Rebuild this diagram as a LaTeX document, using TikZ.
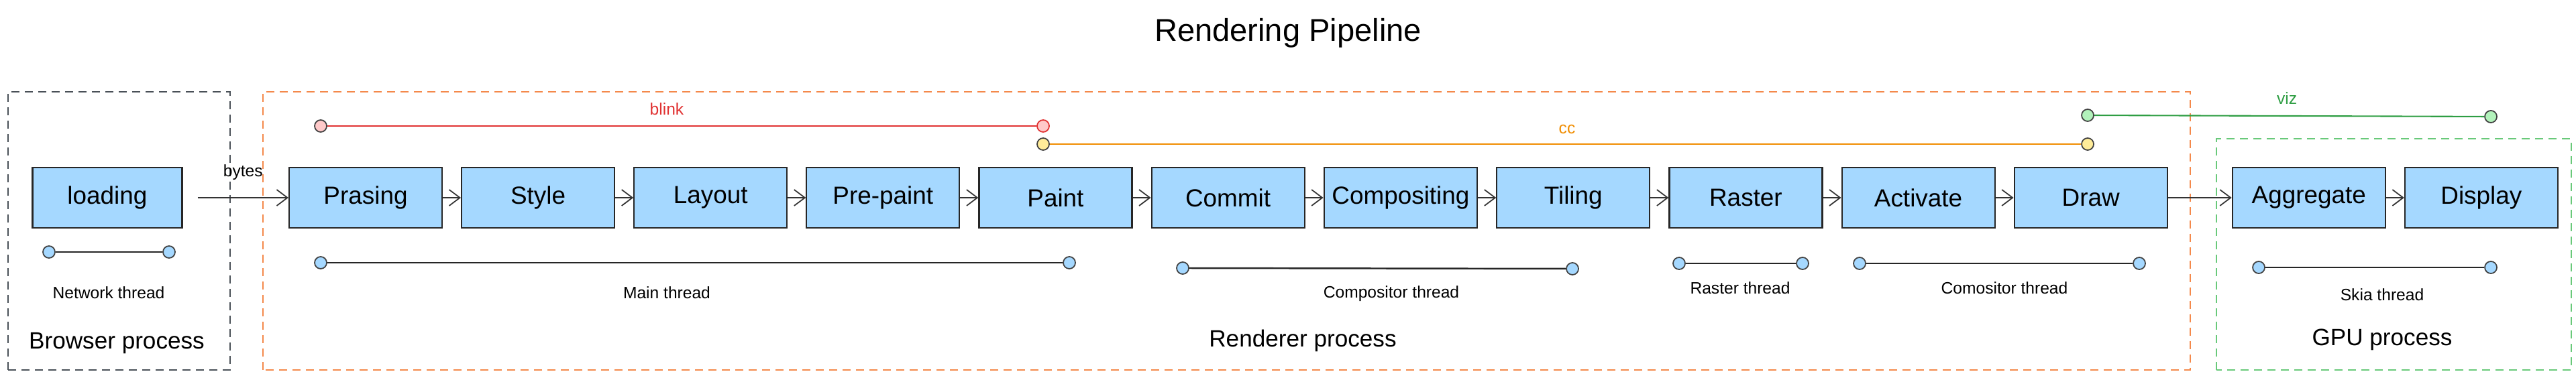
\documentclass[tikz,border=0pt]{standalone}
\usepackage{fontspec}
\setmainfont{Liberation Sans}
\usepackage{tikz}
\usetikzlibrary{arrows.meta,positioning}
\definecolor{PipeBlue}{HTML}{A5D8FF}
\definecolor{PipeRed}{HTML}{E03131}
\definecolor{PipePink}{HTML}{FFC9C9}
\definecolor{PipeOrange}{HTML}{F08C00}
\definecolor{PipeYellow}{HTML}{FFEC99}
\definecolor{PipeGreen}{HTML}{2F9E44}
\definecolor{PipeMint}{HTML}{B2F2BB}
\definecolor{PipeSalmon}{HTML}{F4894B}
\definecolor{PipeLeaf}{HTML}{69C97A}
\definecolor{PipeGray}{HTML}{495057}
\tikzset{
  stage/.style={draw=black!85, line width=0.6pt, fill=PipeBlue, align=center,
    minimum width=22.8mm, minimum height=9mm, font=\fontsize{10.5}{12}\selectfont},
  dot/.style={circle, draw=black!75, line width=0.5pt, fill=#1, inner sep=0pt,
    minimum size=1.8mm},
  flow/.style={-{Straight Barb[length=1.6mm, width=2.4mm]}, line width=0.5pt, draw=black!80},
  thread/.style={line width=0.7pt, draw=black!85},
  process/.style={line width=0.6pt, dash pattern=on 1.2mm off 0.8mm},
  threadlabel/.style={font=\fontsize{7}{8}\selectfont, inner sep=1pt},
  proclabel/.style={font=\fontsize{10}{12}\selectfont, inner sep=1pt},
  modlabel/.style={font=\fontsize{7}{8}\selectfont, inner sep=1pt}
}
\begin{document}
\begin{tikzpicture}[node distance=2.7mm]
  \useasboundingbox (0,0) rectangle (38.4,5.63);
  \node[font=\fontsize{13.4}{16}\selectfont] (title) at (19.2,5.14) {Rendering Pipeline};

  \draw[process, draw=PipeGray] (0.12,0.11) rectangle (3.43,4.26);
  \draw[process, draw=PipeSalmon] (3.92,0.11) rectangle (32.65,4.26);
  \draw[process, draw=PipeLeaf] (33.04,0.11) rectangle (38.33,3.56);

  \node[stage, minimum width=22.3mm] (loading) at (1.6,2.68) {loading};
  \node[stage] (prasing) at (5.45,2.68) {Prasing};
  \node[stage, right=of prasing] (style) {Style};
  \node[stage, right=of style] (layout) {Layout};
  \node[stage, right=of layout] (prepaint) {Pre-paint};
  \node[stage, right=of prepaint] (paint) {Paint};
  \node[stage, right=of paint] (commit) {Commit};
  \node[stage, right=of commit] (compositing) {Compositing};
  \node[stage, right=of compositing] (tiling) {Tiling};
  \node[stage, right=of tiling] (raster) {Raster};
  \node[stage, right=of raster] (activate) {Activate};
  \node[stage, right=of activate] (draw) {Draw};
  \node[stage, right=9.5mm of draw] (aggregate) {Aggregate};
  \node[stage, right=of aggregate] (display) {Display};

  \draw[flow] ([xshift=2.2mm]loading.east) -- node[modlabel, above=2.2mm] (bytes) {bytes} (prasing);
  \draw[flow] (prasing) -- (style);
  \draw[flow] (style) -- (layout);
  \draw[flow] (layout) -- (prepaint);
  \draw[flow] (prepaint) -- (paint);
  \draw[flow] (paint) -- (commit);
  \draw[flow] (commit) -- (compositing);
  \draw[flow] (compositing) -- (tiling);
  \draw[flow] (tiling) -- (raster);
  \draw[flow] (raster) -- (activate);
  \draw[flow] (activate) -- (draw);
  \draw[flow] (draw) -- (aggregate);
  \draw[flow] (aggregate) -- (display);

  \node[dot=PipePink] (blinkA) at (4.78,3.75) {};
  \node[dot=PipePink, draw=PipeRed] (blinkB) at (15.55,3.75) {};
  \draw[line width=0.7pt, draw=PipeRed] (blinkA) -- (blinkB);
  \node[modlabel, text=PipeRed] (blink) at (9.94,4.00) {blink};
  \node[dot=PipeYellow] (ccA) at (15.55,3.48) {};
  \node[dot=PipeYellow] (ccB) at (31.12,3.48) {};
  \draw[line width=0.7pt, draw=PipeOrange] (ccA) -- (ccB);
  \node[modlabel, text=PipeOrange] (cc) at (23.36,3.70) {cc};
  \node[dot=PipeMint] (vizA) at (31.12,3.91) {};
  \node[dot=PipeMint] (vizB) at (37.13,3.89) {};
  \draw[line width=0.6pt, draw=PipeGreen] (vizA) -- (vizB);
  \node[modlabel, text=PipeGreen] (viz) at (34.09,4.16) {viz};

  \node[dot=PipeBlue] (netA) at (0.73,1.87) {};
  \node[dot=PipeBlue] (netB) at (2.52,1.87) {};
  \draw[thread] (netA) -- (netB);
  \node[threadlabel] (nettext) at (1.62,1.26) {Network thread};
  \node[dot=PipeBlue] (mainA) at (4.78,1.71) {};
  \node[dot=PipeBlue] (mainB) at (15.94,1.71) {};
  \draw[thread] (mainA) -- (mainB);
  \node[threadlabel] (maintext) at (9.94,1.26) {Main thread};
  \node[dot=PipeBlue] (compA) at (17.63,1.63) {};
  \node[dot=PipeBlue] (compB) at (23.44,1.62) {};
  \draw[thread] (compA) -- (compB);
  \node[threadlabel] (comptext) at (20.74,1.25) {Compositor thread};
  \node[dot=PipeBlue] (rastA) at (25.03,1.70) {};
  \node[dot=PipeBlue] (rastB) at (26.87,1.70) {};
  \draw[thread] (rastA) -- (rastB);
  \node[threadlabel] (rasttext) at (25.94,1.33) {Raster thread};
  \node[dot=PipeBlue] (comoA) at (27.72,1.70) {};
  \node[dot=PipeBlue] (comoB) at (31.89,1.70) {};
  \draw[thread] (comoA) -- (comoB);
  \node[threadlabel] (comotext) at (29.88,1.33) {Comositor thread};
  \node[dot=PipeBlue] (skiaA) at (33.67,1.64) {};
  \node[dot=PipeBlue] (skiaB) at (37.13,1.64) {};
  \draw[thread] (skiaA) -- (skiaB);
  \node[threadlabel] (skiatext) at (35.51,1.23) {Skia thread};

  \node[proclabel] (browser) at (1.74,0.51) {Browser process};
  \node[proclabel] (renderer) at (19.42,0.55) {Renderer process};
  \node[proclabel] (gpu) at (35.51,0.56) {GPU process};
\end{tikzpicture}
\end{document}
